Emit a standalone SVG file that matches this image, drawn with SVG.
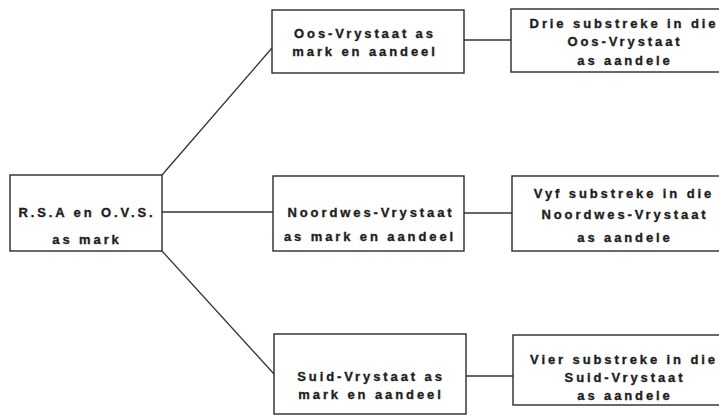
<svg xmlns="http://www.w3.org/2000/svg" width="719" height="416" viewBox="0 0 719 416">
<style>
.bx{fill:#fff;stroke:#2a2a2a;stroke-width:1.4}
.ln{stroke:#333;stroke-width:1.3;fill:none}
text{font-family:"Liberation Sans",Arial,sans-serif;font-weight:bold;font-size:13px;letter-spacing:2.9px;fill:#1e1e1e;stroke:#1e1e1e;stroke-width:0.35;text-anchor:middle}
</style>
<rect width="719" height="416" fill="#fff"/>
<g id="connectors">
<line class="ln" x1="162" y1="175" x2="272" y2="48"/>
<line class="ln" x1="162" y1="212" x2="273" y2="212"/>
<line class="ln" x1="162" y1="251" x2="274" y2="374"/>
<line class="ln" x1="464" y1="40" x2="511" y2="40"/>
<line class="ln" x1="464" y1="213" x2="512" y2="213"/>
<line class="ln" x1="466" y1="376" x2="513" y2="376"/>
</g>
<g id="rsa">
<rect class="bx" x="10" y="175" width="152" height="76"/>
<text x="87" y="217">R.S.A en O.V.S.</text>
<text x="87" y="244">as mark</text>
</g>
<g id="oos">
<rect class="bx" x="272" y="10" width="192" height="63"/>
<text x="365" y="38">Oos-Vrystaat as</text>
<text x="365" y="56">mark en aandeel</text>
</g>
<g id="drie">
<rect class="bx" x="511" y="9" width="220" height="63"/>
<text x="624" y="28">Drie substreke in die</text>
<text x="625" y="46">Oos-Vrystaat</text>
<text x="625" y="65">as aandele</text>
</g>
<g id="noordwes">
<rect class="bx" x="273" y="176" width="191" height="75"/>
<text x="371" y="217">Noordwes-Vrystaat</text>
<text x="370" y="241">as mark en aandeel</text>
</g>
<g id="vyf">
<rect class="bx" x="512" y="176" width="220" height="75"/>
<text x="624" y="198">Vyf substreke in die</text>
<text x="625" y="219">Noordwes-Vrystaat</text>
<text x="625" y="242">as aandele</text>
</g>
<g id="suid">
<rect class="bx" x="274" y="334" width="192" height="80"/>
<text x="371" y="381">Suid-Vrystaat as</text>
<text x="371" y="399">mark en aandeel</text>
</g>
<g id="vier">
<rect class="bx" x="513" y="335" width="220" height="70"/>
<text x="624" y="364">Vier substreke in die</text>
<text x="625" y="382">Suid-Vrystaat</text>
<text x="625" y="400">as aandele</text>
</g>
</svg>
